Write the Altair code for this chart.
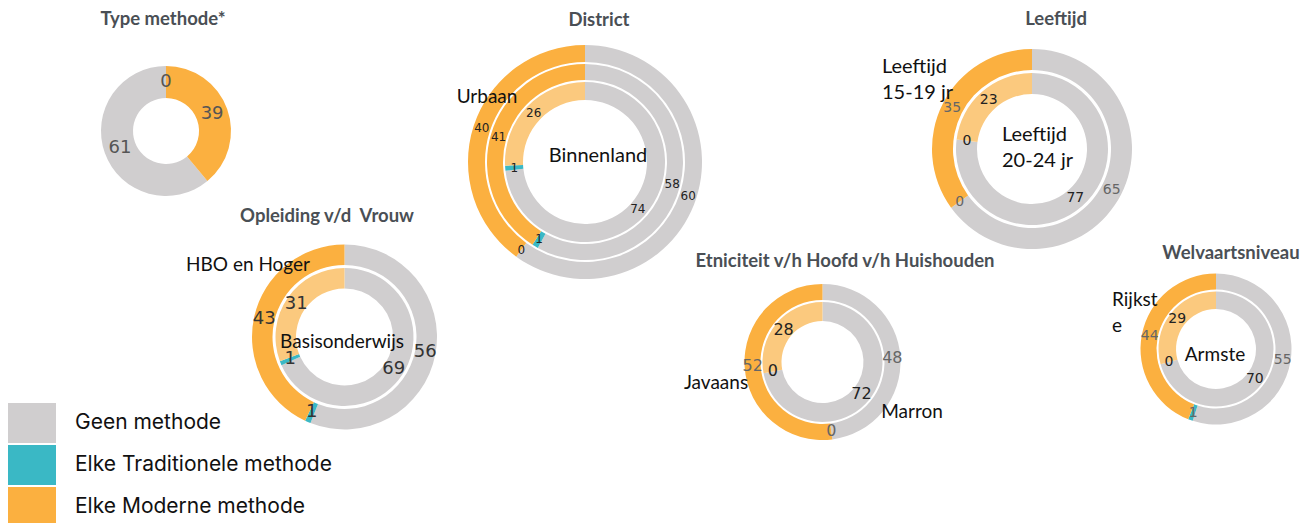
import altair as alt
import pandas as pd

# ---------------- data ----------------
CATS = ["Geen methode", "Elke Traditionele methode", "Elke Moderne methode"]
MODERN_INNER = "Elke Moderne methode (binnenring)"
COLORS = ["#d0cecf", "#3ab8c5", "#fbb040", "#fbc97e"]

# values per ring, in the order [Geen, Traditioneel, Modern]
type_methode = [61, 0, 39]
district_outer = [60, 0, 40]
district_middle = [58, 1, 41]
district_inner = [74, 1, 26]
leeftijd_outer = [65, 0, 35]
leeftijd_inner = [77, 0, 23]
opleiding_outer = [56, 1, 43]
opleiding_inner = [69, 1, 31]
etniciteit_outer = [48, 0, 52]
etniciteit_inner = [72, 0, 28]
welvaart_outer = [55, 1, 44]
welvaart_inner = [70, 0, 29]

titles = ["Type methode*", "District", "Leeftijd", "Opleiding v/d\u00a0 Vrouw",
          "Etniciteit v/h Hoofd v/h Huishouden", "Welvaartsniveau"]
ring_labels = ["Urbaan", "Binnenland", ["Leeftijd", "15-19 jr"], ["Leeftijd", "20-24 jr"],
               "HBO en Hoger", "Basisonderwijs", "Javaans", "Marron", ["Rijkst", "e"], "Armste"]

# ---------------- layout / style ----------------
W, H = 1300, 515
color_scale = alt.Scale(domain=CATS + [MODERN_INNER], range=COLORS)
legend = alt.Legend(
    title=None, orient="none", legendX=3, legendY=395, values=CATS, direction="vertical",
    symbolType="M-1.25,-1H1.25V1H-1.25Z", symbolSize=1600, symbolStrokeWidth=0,
    labelFont="Inter", labelFontSize=21, labelColor="#111", labelOffset=24,
    rowPadding=2, padding=0, labelLimit=400,
)

layers = []


def ring(values, cx, cy, r_in, r_out, light=False, order=(0, 1, 2), fs=12, tcolor="#222"):
    cats = [CATS[0], CATS[1], MODERN_INNER if light else CATS[2]]
    df = pd.DataFrame({"cat": cats, "val": values, "ord": list(order)})
    arc = alt.Chart(df).mark_arc(radius=r_out, radius2=r_in).encode(
        x=alt.value(cx), y=alt.value(cy),
        theta=alt.Theta("val:Q", stack=True),
        order=alt.Order("ord:Q"),
        color=alt.Color("cat:N", scale=color_scale, legend=legend),
    )
    txt = alt.Chart(df).mark_text(
        radius=(r_in + r_out) / 2, font="DejaVu Sans", fontSize=fs, color=tcolor,
        align="center", baseline="middle",
    ).encode(
        x=alt.value(cx), y=alt.value(cy),
        theta=alt.Theta("val:Q", stack=True),
        order=alt.Order("ord:Q"),
        detail="cat:N",
        text="val:Q",
    )
    layers.extend([arc, txt])


def label(text, x, y, size=17, align="center", color="#111", font="Lato", weight="normal",
          lh=25, baseline="middle"):
    lines = text if isinstance(text, list) else [text]
    n = len(lines)
    for i, line in enumerate(lines):
        dy = (i - (n - 1) / 2) * lh
        layers.append(
            alt.Chart(pd.DataFrame({"t": [line]})).mark_text(
                font=font, fontSize=size, color=color, align=align, baseline=baseline,
                fontWeight=weight,
            ).encode(x=alt.value(x), y=alt.value(y + dy), text="t:N")
        )


# Type methode
ring(type_methode, 158, 123, 33, 65, order=(1, 2, 0), fs=18, tcolor="#555")
# District
ring(district_outer, 577, 154, 100, 117, fs=12)
ring(district_middle, 577, 154, 82, 98, fs=12)
ring(district_inner, 577, 154, 62, 80, light=True, fs=12)
# Leeftijd
ring(leeftijd_outer, 1024, 141, 79, 100, fs=14, tcolor="#666")
ring(leeftijd_inner, 1024, 141, 55, 76, light=True, fs=14)
# Opleiding
ring(opleiding_outer, 336.5, 329, 72, 92.5, fs=18, tcolor="#333")
ring(opleiding_inner, 336.5, 329, 48.5, 69, light=True, fs=18, tcolor="#333")
# Etniciteit
ring(etniciteit_outer, 814.5, 354, 62, 78, fs=16, tcolor="#666")
ring(etniciteit_inner, 814.5, 354, 41, 60, light=True, fs=16)
# Welvaartsniveau
ring(welvaart_outer, 1208, 341, 59.5, 75.5, fs=14, tcolor="#666")
ring(welvaart_inner, 1208, 341, 40, 57.5, light=True, fs=14)

# titles (alphabetic baseline positions)
title_pos = [(155, 17), (591, 18), (1048, 17), (319, 213.5), (837, 258.5), (1223, 250.5)]
for t, (x, y) in zip(titles, title_pos):
    label(t, x, y, size=18.5, color="#4a4f55", weight="bold", baseline="alphabetic")

# ring labels
label_pos = [(479, 89, "center", 19), (590, 148, "center", 20), (874, 72, "left", 20),
             (994, 140, "left", 20), (240, 257, "center", 19), (334, 334, "center", 19),
             (708, 375, "center", 19), (904, 404, "center", 19), (1104, 305, "left", 19),
             (1207, 347, "center", 19)]
for t, (x, y, a, s) in zip(ring_labels, label_pos):
    label(t, x, y, size=s, align=a, lh=25.5)

chart = alt.layer(*layers).resolve_scale(theta="independent").properties(
    width=W, height=H, autosize=alt.AutoSizeParams(type="none"), padding=0,
    background="white",
).configure_view(stroke=None)

chart.save("out.html", embed_options={"renderer": "svg", "actions": False})
